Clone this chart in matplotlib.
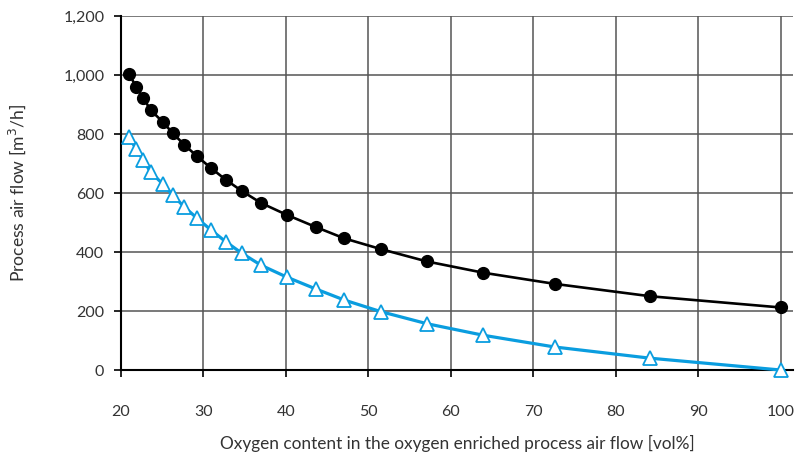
import numpy as np
import matplotlib
matplotlib.use('Agg')
import matplotlib.pyplot as plt
from matplotlib.ticker import FuncFormatter

plt.rcParams['font.family'] = ['Lato', 'DejaVu Sans']

# oxygen content [vol%]
oxygen = [21.0, 21.8, 22.7, 23.6, 25.1, 26.3, 27.7, 29.2, 30.9, 32.7, 34.7,
          37.0, 40.1, 43.6, 47.1, 51.5, 57.1, 63.9, 72.6, 84.2, 100.0]
# process air flow [m3/h]
air_total = [1005, 960, 922, 881, 840, 802, 763, 725, 685, 645, 606,
             566, 526, 485, 446, 410, 368, 330, 292, 250, 212]
air_saved = [790, 750, 712, 670, 630, 592, 552, 515, 475, 435, 395,
             355, 315, 275, 237, 198, 157, 118, 78, 40, 0]

xticks = [20, 30, 40, 50, 60, 70, 80, 90, 100]
yticks = [0, 200, 400, 600, 800, 1000, 1200]

fig = plt.figure(figsize=(8.03, 4.55), dpi=100)
ax = fig.add_axes([0.1507, 0.1868, 0.8368, 0.778])

ax.plot(oxygen, air_total, color='black', lw=1.9, marker='o', ms=8.5,
        mfc='black', mec='black', zorder=4, clip_on=False)
ax.plot(oxygen, air_saved, color='#0a9ddf', lw=2.3, marker='^', ms=9.5,
        mfc='white', mec='#0a9ddf', mew=1.3, zorder=3, clip_on=False)

ax.set_xlim(20, 101.5)
ax.set_ylim(0, 1200)
ax.set_xticks(xticks)
ax.set_yticks(yticks)
ax.yaxis.set_major_formatter(FuncFormatter(lambda v, p: '{:,.0f}'.format(v)))
ax.grid(True, color='#555555', lw=1.1)
ax.set_axisbelow(True)
for s in ['top', 'right']:
    ax.spines[s].set_visible(False)
for s in ['left', 'bottom']:
    ax.spines[s].set_linewidth(1.5)
    ax.spines[s].set_color('black')

ax.tick_params(axis='both', direction='out', length=5, width=1.2,
               colors='black', labelcolor='#333333', labelsize=11.5)
ax.tick_params(axis='x', pad=20)
ax.tick_params(axis='y', pad=7)

ax.set_xlabel('Oxygen content in the oxygen enriched process air flow [vol%]',
              fontsize=12.4, color='#333333', labelpad=12)
ax.set_ylabel('Process air flow [m$^3$/h]', fontsize=12.6, color='#333333',
              labelpad=25)

plt.savefig('out.png', dpi=100)
